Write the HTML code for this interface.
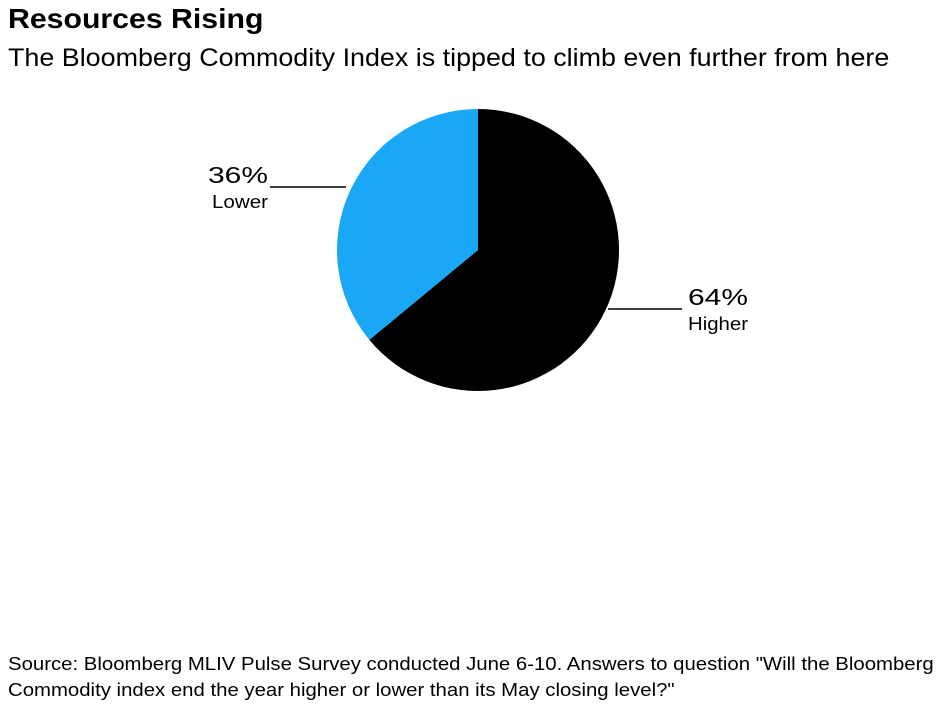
<!DOCTYPE html>
<html><head><meta charset="utf-8"><style>
body{margin:0;background:#fff;width:941px;height:721px;overflow:hidden;font-family:"Liberation Sans",Arial,sans-serif;color:#000}
.t{position:absolute;left:8px;top:3px;font-size:28px;font-weight:bold;transform:scaleX(1.08);transform-origin:left top;white-space:nowrap}
.s{position:absolute;left:8px;top:44px;font-size:25px;transform:scaleX(1.075);transform-origin:left top;white-space:nowrap}
.src{position:absolute;left:8px;top:651px;font-size:18.5px;line-height:26px;transform:scaleX(1.1);transform-origin:left top;white-space:nowrap}
</style></head><body>
<div class="t">Resources Rising</div>
<div class="s">The Bloomberg Commodity Index is tipped to climb even further from here</div>
<svg width="941" height="721" style="position:absolute;left:0;top:0">
<g id="pie"></g>
<line x1="270" y1="187" x2="346" y2="187" stroke="#000" stroke-width="1.5"/>
<line x1="608" y1="309" x2="682" y2="309" stroke="#000" stroke-width="1.5"/>
<text x="208" y="183" textLength="60" lengthAdjust="spacingAndGlyphs" font-size="23" font-family="Liberation Sans">36%</text>
<text x="212" y="208" textLength="56" lengthAdjust="spacingAndGlyphs" font-size="18" font-family="Liberation Sans">Lower</text>
<text x="688" y="305" textLength="60" lengthAdjust="spacingAndGlyphs" font-size="23" font-family="Liberation Sans">64%</text>
<text x="688" y="330" textLength="60" lengthAdjust="spacingAndGlyphs" font-size="18" font-family="Liberation Sans">Higher</text>
</svg>
<div class="src">Source: Bloomberg MLIV Pulse Survey conducted June 6-10. Answers to question "Will the Bloomberg<br>Commodity index end the year higher or lower than its May closing level?"</div>
<script>
const categories=["Higher","Lower"];
const values=[64,36];
const colors=["#000000","#1aa7f5"];
const cx=478,cy=250,r=141;
const g=document.getElementById('pie');
const total=values.reduce((a,b)=>a+b,0);
let a0=0;
values.forEach((v,i)=>{
  const a1=a0+v/total*2*Math.PI;
  const x0=cx+r*Math.sin(a0),y0=cy-r*Math.cos(a0);
  const x1=cx+r*Math.sin(a1),y1=cy-r*Math.cos(a1);
  const large=(a1-a0)>Math.PI?1:0;
  const p=document.createElementNS('http://www.w3.org/2000/svg','path');
  p.setAttribute('d',`M${cx},${cy}L${x0},${y0}A${r},${r} 0 ${large} 1 ${x1},${y1}Z`);
  p.setAttribute('fill',colors[i]);
  
  
  g.appendChild(p);
  a0=a1;
});
</script>
</body></html>
